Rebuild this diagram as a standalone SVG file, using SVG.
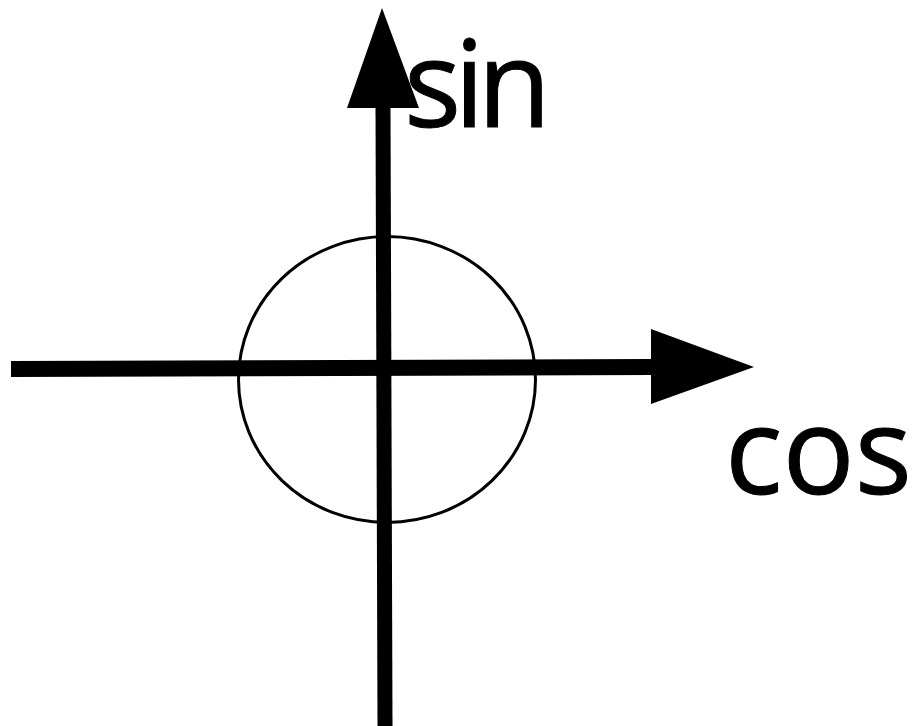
<svg xmlns="http://www.w3.org/2000/svg" width="918" height="726" viewBox="0 0 918 726">
<style>
.axis{stroke:#000;stroke-width:16;fill:none;stroke-linecap:butt}
.head{fill:#000;stroke:none}
.lbl{font-family:"Open Sans","Noto Sans",sans-serif;font-size:120px;fill:#000;stroke:#000;stroke-width:1}
</style>
<rect width="918" height="726" fill="#fff"/>
<g id="circle"><ellipse cx="387" cy="379.5" rx="148.5" ry="143" fill="none" stroke="#000" stroke-width="3"/></g>
<g id="connectors">
<line class="axis" x1="11" y1="369" x2="652" y2="367"/>
<polygon class="head" points="651,329 754,367 651,404"/>
<line class="axis" x1="385" y1="726" x2="383" y2="106" style="stroke-width:15"/>
<polygon class="head" points="347,108 382,8 419,108"/>
</g>
<g id="sin"><text class="lbl" x="404" y="127" letter-spacing="-7">sin</text></g>
<g id="cos"><text class="lbl" x="725" y="494">cos</text></g>
</svg>
